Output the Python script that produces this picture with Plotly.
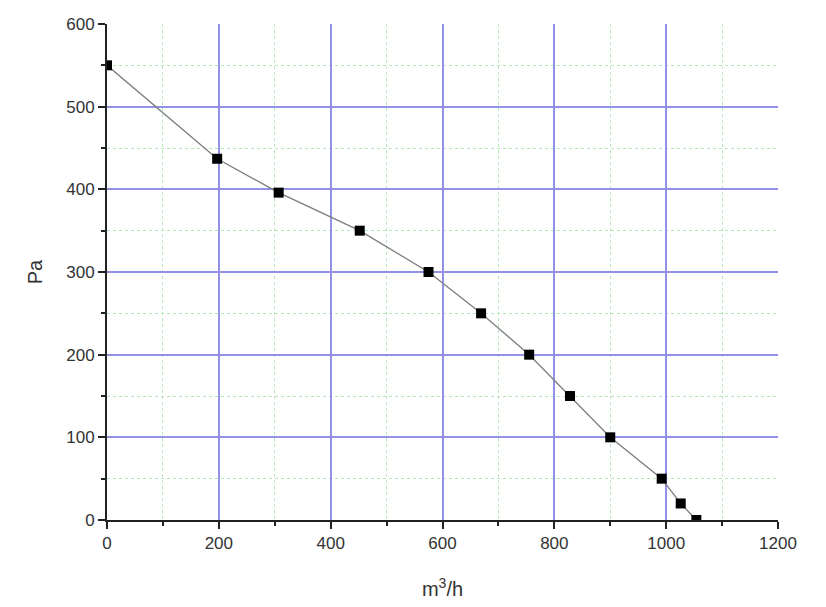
import plotly.graph_objects as go

flow = [0, 197, 307, 452, 575, 669, 755, 828, 900, 992, 1026, 1054]
pressure = [550, 437, 396, 350, 300, 250, 200, 150, 100, 50, 20, 0]

x_ticks = [0, 200, 400, 600, 800, 1000, 1200]
y_ticks = [0, 100, 200, 300, 400, 500, 600]

fig = go.Figure()
fig.add_trace(go.Scatter(
    x=flow, y=pressure, mode="lines+markers",
    line=dict(color="rgb(125,125,125)", width=1.3),
    marker=dict(symbol="square", size=10, color="black"),
    showlegend=False,
))

tickfont = dict(family="Liberation Sans, Arial", size=17, color="#333")
titlefont = dict(family="Liberation Sans, Arial", size=20, color="#333")
fig.update_layout(
    width=826, height=607,
    margin=dict(l=99, r=56, t=16, b=95, autoexpand=False),
    paper_bgcolor="white", plot_bgcolor="white",
    xaxis=dict(
        range=[0, 1200], tickvals=x_ticks, ticktext=[str(v) for v in x_ticks],
        showline=True, linecolor="#222", linewidth=2,
        ticks="outside", ticklen=7, tickwidth=2, tickcolor="#222",
        showgrid=True, gridcolor="rgb(145,145,230)", gridwidth=1.5,
        zeroline=False, tickfont=tickfont, automargin=False,
        minor=dict(dtick=100, showgrid=True, gridcolor="rgb(185,230,185)",
                   griddash="dot", gridwidth=1, ticks="outside", ticklen=4,
                   tickwidth=2, tickcolor="#222"),
        title=dict(text="m<sup>3</sup>/h", font=titlefont, standoff=30),
    ),
    yaxis=dict(
        range=[0, 600], tickvals=y_ticks, ticktext=[str(v) for v in y_ticks],
        showline=True, linecolor="#222", linewidth=2,
        ticks="outside", ticklen=7, tickwidth=2, tickcolor="#222",
        showgrid=True, gridcolor="rgb(145,145,230)", gridwidth=1.5,
        zeroline=False, tickfont=tickfont, automargin=False,
        minor=dict(dtick=50, showgrid=True, gridcolor="rgb(185,230,185)",
                   griddash="dot", gridwidth=1, ticks="outside", ticklen=4,
                   tickwidth=2, tickcolor="#222"),
        title=dict(text="Pa", font=titlefont, standoff=18),
    ),
)

fig.write_html("out.html")
